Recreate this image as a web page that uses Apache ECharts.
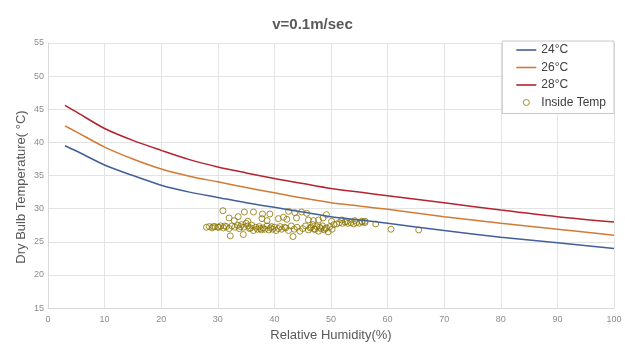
<!DOCTYPE html>
<html><head><meta charset="utf-8">
<script src="https://cdn.jsdelivr.net/npm/echarts@6/dist/echarts.min.js"></script>
<style>html,body{margin:0;padding:0;background:#fff}#c{width:625px;height:347px}</style>
</head><body><div id="c"></div>
<script>
var rh = [3, 5, 10, 15, 20, 25, 30, 35, 40, 45, 50, 55, 60, 70, 80, 90, 100];
var t24 = [39.5, 38.7, 36.6, 35.0, 33.55, 32.5, 31.7, 30.9, 30.2, 29.5, 28.8, 28.3, 27.8, 26.7, 25.7, 24.85, 24.0];
var t26 = [42.5, 41.6, 39.3, 37.5, 36.0, 34.9, 34.05, 33.2, 32.4, 31.6, 30.9, 30.4, 29.9, 28.8, 27.8, 26.9, 26.0];
var t28 = [45.6, 44.6, 42.1, 40.3, 38.8, 37.4, 36.3, 35.4, 34.55, 33.8, 33.06, 32.5, 31.97, 30.9, 29.8, 28.8, 28.0];
var insideRH = [28.0,28.5,29.0,29.5,30.0,30.5,31.0,31.5,32.0,32.5,33.0,33.5,33.8,
  34.2,34.6,35.0,35.3,35.6,36.0,36.3,36.7,37.0,37.3,37.7,38.0,38.3,38.7,39.0,39.3,39.7,40.0,40.3,40.7,41.0,41.3,
  42.0,42.5,43.0,43.5,44.0,44.5,45.0,
  45.5,46.0,46.5,46.8,47.2,47.5,47.8,48.2,48.5,48.8,49.2,49.5,49.8,50.2,50.5,
  51.0,51.5,52.0,52.5,53.0,53.5,54.0,54.5,55.0,55.5,56.0,
  30.9,34.7,36.3,37.9,39.2,42.5,43.6,44.8,45.7,49.2,32.2,43.3,34.5,
  32.0,33.6,32.9,35.3,37.8,38.7,40.7,41.6,42.2,43.9,46.0,46.9,47.8,48.6,50.1,51.9,52.8,54.2,55.4,56.0,
  57.9,60.6,65.5,
  29.2,30.2,31.2,34.0,35.8,37.5,39.5,41.8,46.3,47.0,48.0,49.0];
var insideT = [27.2,27.3,27.1,27.3,27.2,27.4,27.1,27.3,27.0,27.4,27.2,27.5,27.0,
  27.6,27.2,27.8,27.4,27.0,27.5,26.7,27.2,26.9,27.3,26.8,27.1,26.9,27.4,26.8,27.1,26.9,27.2,26.7,27.0,27.3,26.9,
  27.1,26.7,27.4,26.9,27.2,26.6,27.0,
  27.4,26.8,27.2,27.6,26.9,27.3,26.6,27.0,27.4,26.8,27.1,26.5,27.3,26.9,27.6,
  27.7,27.9,27.8,28.0,27.8,27.9,27.7,27.9,27.8,28.0,27.9,
  29.7,29.5,29.5,29.2,29.2,29.6,29.4,29.5,29.3,29.1,25.9,25.8,26.1,
  28.6,28.8,28.2,28.1,28.5,28.2,28.5,28.7,28.4,28.6,28.3,28.2,28.3,28.6,28.1,28.3,28.1,28.2,28.1,28.1,
  27.7,26.9,26.8,
  27.3,27.2,27.4,27.3,27.1,27.0,27.3,27.2,27.1,26.9,27.2,27.0];
var xTicks = [0,10,20,30,40,50,60,70,80,90,100];
var yTicks = [15,20,25,30,35,40,45,50,55];

function pairs(xs, ys){ return xs.map(function(x,i){ return [x, ys[i]]; }); }
var font = 'Liberation Sans, Arial, sans-serif';
var lineIcon = 'path://M0 0H20V1.6H0Z';
var chart = echarts.init(document.getElementById('c'), null, {renderer:'canvas'});
chart.setOption({
  animation:false,
  title:{text:'v=0.1m/sec', left:'center', top:12, textStyle:{fontFamily:font, fontSize:15, fontWeight:'bold', color:'#595959'}},
  grid:{left:48, right:11, top:43, bottom:36},
  legend:{orient:'vertical', right:11, top:41, padding:[3,8,5,14], itemGap:5.5, itemWidth:20, itemHeight:6,
    backgroundColor:'#fff', borderColor:'#c8c8c8', borderWidth:1,
    textStyle:{fontFamily:font, fontSize:12, color:'#404040'},
    data:[{name:'24°C', icon:lineIcon}, {name:'26°C', icon:lineIcon}, {name:'28°C', icon:lineIcon},
      {name:'Inside Temp', icon:'circle', itemStyle:{color:'#fff', borderColor:'#8B7500', borderWidth:1}}]},
  xAxis:{type:'value', min:0, max:100, interval:10,
    name:'Relative Humidity(%)', nameLocation:'middle', nameGap:20,
    nameTextStyle:{fontFamily:font, fontSize:13, color:'#595959'},
    axisLine:{lineStyle:{color:'#d9d9d9'}}, axisTick:{show:false},
    axisLabel:{fontFamily:font, fontSize:9, color:'#8c8c8c', margin:7, formatter:function(v){return xTicks.indexOf(v)>=0?String(v):'';}},
    splitLine:{lineStyle:{color:'#e3e3e3'}}},
  yAxis:{type:'value', min:15, max:55, interval:5,
    axisLine:{show:true, lineStyle:{color:'#d9d9d9'}}, axisTick:{show:false},
    axisLabel:{fontFamily:font, fontSize:9, color:'#8c8c8c', margin:4, formatter:function(v){return yTicks.indexOf(v)>=0?String(v):'';}},
    splitLine:{lineStyle:{color:'#e3e3e3'}}},
  graphic:[{type:'text', x:21, y:187, rotation:Math.PI/2,
    style:{text:'Dry Bulb Temperature( °C)', fontFamily:font, fontSize:13, fill:'#595959', textAlign:'center', textVerticalAlign:'middle'}}],
  series:[
    {name:'24°C', type:'line', data:pairs(rh,t24), smooth:0.3, symbol:'none', lineStyle:{color:'#41609a', width:1.5}, itemStyle:{color:'#41609a'}},
    {name:'26°C', type:'line', data:pairs(rh,t26), smooth:0.3, symbol:'none', lineStyle:{color:'#d07b36', width:1.5}, itemStyle:{color:'#d07b36'}},
    {name:'28°C', type:'line', data:pairs(rh,t28), smooth:0.3, symbol:'none', lineStyle:{color:'#b3242e', width:1.5}, itemStyle:{color:'#b3242e'}},
    {name:'Inside Temp', type:'scatter', data:pairs(insideRH,insideT), symbol:'circle', symbolSize:6,
      itemStyle:{color:'rgba(0,0,0,0)', borderColor:'#8B7500', borderWidth:1}, z:1}
  ]
});
</script></body></html>
